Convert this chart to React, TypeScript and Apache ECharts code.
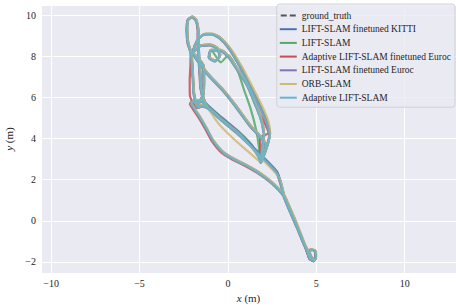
import React, { useEffect, useRef } from "react";
import * as echarts from "echarts";

// Trajectories (x, y in metres)
const groundTruth: number[][] = [
  [4.80,-1.85],[4.58,-1.61],[4.69,-1.41],[4.92,-1.46],[4.97,-1.76],[4.86,-1.95],[4.63,-1.85],[4.46,-1.46],[4.18,-0.83],[3.84,-0.10],
  [3.50,0.59],[3.16,1.22],[2.54,1.80],[1.81,2.29],[1.07,2.68],[0.28,3.02],[-0.28,3.32],[-0.85,3.90],[-1.19,4.44],[-1.58,5.02],
  [-1.92,5.46],[-2.09,5.71],[-1.81,5.85],[-1.41,5.80],[-1.30,5.66],[-1.69,5.51],[-1.92,6.10],[-1.98,6.83],[-2.03,7.56],[-2.09,8.15],
  [-2.26,8.63],[-2.32,9.27],[-2.26,9.76],[-2.03,9.90],[-1.81,9.76],[-1.69,9.27],[-1.69,8.54],[-1.64,7.80],[-1.58,7.07],[-1.53,6.44],
  [-1.30,5.71],[-0.45,5.02],[0.51,4.34],[1.30,3.66],[1.75,3.12],[1.86,2.83],[2.03,3.17],[2.26,3.76],[2.37,4.24],[2.15,4.88],
  [1.75,5.66],[1.24,6.54],[0.68,7.51],[0.06,8.39],[-0.45,8.88],[-0.90,9.07],[-1.30,9.07],[-1.64,8.88],[-1.86,8.54],[-1.98,8.20],
  [-1.58,8.49],[-1.02,8.54],[-0.62,8.39],[-0.45,8.05],[-0.73,7.76],[-1.07,7.95],[-0.96,8.29],[-0.45,8.29],[0.06,7.95],[0.56,7.32],
  [1.13,6.54],[1.58,5.61],[1.92,4.78],[2.03,4.15],[1.92,3.41],[1.86,2.83],[2.15,3.66],[1.24,4.63],[0.40,5.61],[-0.28,6.34],
  [-1.19,7.17],[-1.81,7.90],[-1.98,8.15],[-1.41,7.56],[-1.36,6.83],[-1.41,6.10],[-1.69,5.66],[-1.19,5.51],[-0.34,4.88],[0.68,4.15],
  [1.58,3.41],[2.26,2.83],[2.77,2.34],[2.99,1.80],[3.16,1.22],[3.50,0.49],[3.95,-0.39],[4.35,-1.22],[4.69,-1.71]
];

const liftKitti: number[][] = [
  [4.78,-1.83],[4.56,-1.58],[4.70,-1.38],[4.94,-1.48],[4.98,-1.78],[4.84,-1.97],[4.60,-1.82],[4.44,-1.42],[4.16,-0.80],[3.86,-0.08],
  [3.52,0.60],[3.18,1.25],[2.56,1.82],[1.83,2.32],[1.05,2.70],[0.26,3.05],[-0.30,3.36],[-0.88,3.93],[-1.22,4.48],[-1.60,5.05],
  [-1.95,5.48],[-2.10,5.75],[-1.80,5.88],[-1.40,5.84],[-1.28,5.68],[-1.66,5.54],[-1.90,6.14],[-1.96,6.86],[-2.00,7.60],[-2.07,8.18],
  [-2.24,8.66],[-2.30,9.30],[-2.24,9.78],[-2.01,9.92],[-1.79,9.78],[-1.67,9.30],[-1.66,8.58],[-1.60,7.84],[-1.55,7.10],[-1.50,6.48],
  [-1.26,5.74],[-0.40,5.06],[0.55,4.38],[1.34,3.70],[1.78,3.16],[1.88,2.86],[2.05,3.20],[2.28,3.80],[2.38,4.28],[2.17,4.92],
  [1.77,5.70],[1.26,6.58],[0.70,7.55],[0.08,8.42],[-0.43,8.90],[-0.88,9.09],[-1.28,9.09],[-1.62,8.90],[-1.84,8.56],[-1.96,8.22],
  [-1.56,8.51],[-1.00,8.56],[-0.60,8.41],[-0.43,8.07],[-0.71,7.78],[-1.05,7.97],[-0.94,8.31],[-0.43,8.31],[0.08,7.97],[0.58,7.34],
  [1.15,6.56],[1.60,5.63],[1.94,4.80],[2.05,4.17],[1.94,3.43],[1.88,2.86],[2.17,3.68],[1.26,4.66],[0.42,5.64],[-0.26,6.37],
  [-1.17,7.20],[-1.79,7.93],[-1.96,8.17],[-1.39,7.58],[-1.34,6.86],[-1.39,6.13],[-1.67,5.69],[-1.17,5.54],[-0.32,4.91],[0.70,4.18],
  [1.60,3.44],[2.28,2.86],[2.79,2.37],[3.01,1.83],[3.18,1.25],[3.52,0.52],[3.97,-0.36],[4.37,-1.19],[4.71,-1.68]
];

const liftSlam: number[][] = [
  [4.82,-1.84],[4.60,-1.60],[4.71,-1.40],[4.93,-1.47],[4.96,-1.77],[4.85,-1.96],[4.62,-1.84],[4.45,-1.45],[4.17,-0.82],[3.85,-0.09],
  [3.51,0.60],[3.17,1.23],[2.55,1.81],[1.82,2.30],[1.06,2.69],[0.27,3.03],[-0.29,3.34],[-0.86,3.92],[-1.20,4.46],[-1.59,5.04],
  [-1.93,5.47],[-2.10,5.73],[-1.80,5.87],[-1.40,5.82],[-1.29,5.67],[-1.68,5.53],[-1.91,6.12],[-1.97,6.85],[-2.02,7.58],[-2.08,8.17],
  [-2.25,8.65],[-2.31,9.28],[-2.25,9.77],[-2.02,9.91],[-1.80,9.77],[-1.68,9.28],[-1.68,8.56],[-1.62,7.82],[-1.56,7.09],[-1.51,6.46],
  [-1.28,5.73],[-0.43,5.04],[0.53,4.36],[1.32,3.68],[1.76,3.14],[1.87,2.85],[2.04,3.19],[2.27,3.78],[2.38,4.26],[2.16,4.90],
  [1.76,5.68],[1.25,6.56],[0.69,7.53],[0.07,8.41],[-0.44,8.89],[-0.89,9.08],[-1.29,9.08],[-1.63,8.89],[-1.85,8.55],[-1.97,8.21],
  [-1.57,8.50],[-1.01,8.55],[-0.61,8.40],[-0.44,8.06],[-0.72,7.77],[-1.06,7.96],[-0.95,8.30],[-0.40,7.70],[0.02,8.05],[0.55,7.30],
  [0.90,6.40],[1.30,5.40],[1.60,4.40],[1.75,3.60],[1.80,2.95],[1.87,2.85],[2.16,3.67],[1.25,4.64],[0.41,5.62],[-0.27,6.35],
  [-1.18,7.18],[-1.80,7.91],[-1.97,8.16],[-1.40,7.57],[-1.35,6.84],[-1.40,6.11],[-1.68,5.67],[-1.18,5.52],[-0.33,4.89],[0.69,4.16],
  [1.59,3.42],[2.27,2.84],[2.78,2.35],[3.00,1.81],[3.17,1.23],[3.51,0.50],[3.96,-0.38],[4.36,-1.21],[4.70,-1.70]
];

const adaptiveEuroc: number[][] = [
  [4.79,-1.86],[4.57,-1.62],[4.68,-1.42],[4.91,-1.47],[4.96,-1.77],[4.85,-1.96],[4.62,-1.86],[4.45,-1.47],[4.17,-0.84],[3.83,-0.11],
  [3.49,0.58],[3.14,1.21],[2.52,1.78],[1.78,2.26],[1.03,2.64],[0.24,2.98],[-0.33,3.28],[-0.90,3.86],[-1.25,4.41],[-1.64,4.99],
  [-1.98,5.43],[-2.15,5.68],[-1.84,5.83],[-1.44,5.78],[-1.33,5.63],[-1.74,5.48],[-2.15,6.10],[-2.16,6.83],[-2.12,7.56],[-2.11,8.14],
  [-2.28,8.62],[-2.34,9.26],[-2.28,9.75],[-2.05,9.89],[-1.83,9.75],[-1.71,9.26],[-1.71,8.53],[-1.66,7.79],[-1.60,7.06],[-1.55,6.43],
  [-1.32,5.70],[-0.47,5.01],[0.49,4.33],[1.28,3.65],[1.73,3.11],[1.84,2.82],[2.01,3.16],[2.24,3.75],[2.35,4.23],[2.13,4.87],
  [1.73,5.65],[1.22,6.53],[0.66,7.50],[0.04,8.38],[-0.47,8.87],[-0.92,9.06],[-1.32,9.06],[-1.66,8.87],[-1.88,8.53],[-2.00,8.19],
  [-1.60,8.48],[-1.04,8.53],[-0.64,8.38],[-0.47,8.04],[-0.75,7.75],[-1.09,7.94],[-0.98,8.28],[-0.47,8.28],[0.04,7.94],[0.54,7.31],
  [1.11,6.53],[1.56,5.60],[2.10,4.70],[2.30,4.28],[1.82,4.02],[1.88,2.90],[2.13,3.65],[1.22,4.62],[0.38,5.60],[-0.30,6.33],
  [-1.21,7.16],[-1.83,7.89],[-2.00,8.14],[-1.43,7.55],[-1.38,6.82],[-1.43,6.09],[-1.71,5.65],[-1.21,5.50],[-0.36,4.87],[0.66,4.14],
  [1.56,3.40],[2.24,2.82],[2.75,2.33],[2.97,1.79],[3.14,1.21],[3.48,0.48],[3.93,-0.40],[4.33,-1.23],[4.67,-1.72]
];

const liftEuroc: number[][] = [
  [4.81,-1.84],[4.59,-1.60],[4.70,-1.40],[4.93,-1.45],[4.98,-1.75],[4.87,-1.94],[4.64,-1.84],[4.47,-1.45],[4.19,-0.82],[3.85,-0.09],
  [3.51,0.60],[3.17,1.23],[2.55,1.81],[1.82,2.30],[1.08,2.69],[0.29,3.03],[-0.27,3.33],[-0.84,3.91],[-1.18,4.45],[-1.57,5.03],
  [-1.91,5.47],[-2.08,5.72],[-1.80,5.86],[-1.40,5.81],[-1.29,5.67],[-1.68,5.52],[-1.91,6.11],[-1.97,6.84],[-2.02,7.57],[-2.08,8.16],
  [-2.25,8.64],[-2.31,9.28],[-2.25,9.77],[-2.02,9.91],[-1.80,9.77],[-1.68,9.28],[-1.68,8.55],[-1.63,7.81],[-1.57,7.08],[-1.52,6.45],
  [-1.29,5.72],[-0.44,5.03],[0.52,4.35],[1.31,3.67],[1.76,3.13],[1.87,2.84],[2.04,3.18],[2.27,3.77],[2.38,4.25],[2.16,4.89],
  [1.76,5.67],[1.25,6.55],[0.69,7.52],[0.07,8.40],[-0.44,8.89],[-0.89,9.08],[-1.29,9.08],[-1.63,8.89],[-1.85,8.55],[-1.97,8.21],
  [-1.57,8.50],[-1.01,8.55],[-0.61,8.40],[-0.44,8.06],[-0.72,7.77],[-1.06,7.96],[-0.95,8.30],[-0.44,8.30],[0.07,7.96],[0.57,7.33],
  [1.14,6.55],[1.59,5.62],[1.93,4.79],[2.04,4.16],[1.95,3.70],[1.87,2.84],[2.16,3.67],[1.25,4.64],[0.41,5.62],[-0.27,6.35],
  [-1.18,7.18],[-1.80,7.91],[-1.97,8.16],[-1.40,7.57],[-1.35,6.84],[-1.40,6.11],[-1.68,5.67],[-1.18,5.52],[-0.33,4.89],[0.69,4.16],
  [1.59,3.42],[2.27,2.84],[2.78,2.35],[3.00,1.81],[3.17,1.23],[3.51,0.50],[3.96,-0.38],[4.36,-1.21],[4.70,-1.70]
];

const orbSlam: number[][] = [
  [4.83,-1.82],[4.61,-1.58],[4.72,-1.38],[4.95,-1.44],[5.00,-1.74],[4.88,-1.93],[4.65,-1.83],[4.48,-1.43],[4.21,-0.79],[3.87,-0.06],
  [3.53,0.62],[3.19,1.25],[2.57,1.83],[1.84,2.31],[1.09,2.70],[0.30,3.04],[-0.26,3.35],[-0.83,3.93],[-1.17,4.47],[-1.56,5.05],
  [-1.90,5.49],[-2.07,5.74],[-1.79,5.88],[-1.39,5.83],[-1.28,5.69],[-1.67,5.54],[-1.90,6.13],[-1.96,6.86],[-2.01,7.59],[-2.07,8.18],
  [-2.24,8.66],[-2.30,9.30],[-2.24,9.79],[-2.01,9.93],[-1.79,9.79],[-1.67,9.30],[-1.67,8.57],[-1.62,7.83],[-1.56,7.10],[-1.51,6.47],
  [-1.28,5.74],[-0.55,4.75],[0.30,4.00],[1.10,3.40],[1.70,2.95],[1.88,2.86],[2.05,3.20],[2.28,3.79],[2.39,4.27],[2.30,4.80],
  [1.92,5.60],[1.40,6.50],[0.82,7.45],[0.15,8.38],[-0.43,8.91],[-0.88,9.10],[-1.28,9.10],[-1.62,8.91],[-1.84,8.57],[-1.96,8.23],
  [-1.56,8.52],[-1.00,8.57],[-0.60,8.42],[-0.43,8.08],[-0.71,7.79],[-1.05,7.98],[-0.94,8.32],[-0.43,8.32],[0.08,7.98],[0.58,7.35],
  [1.15,6.57],[1.60,5.64],[1.94,4.81],[2.05,4.18],[1.94,3.44],[1.88,2.86],[2.17,3.69],[1.26,4.66],[0.42,5.64],[-0.26,6.37],
  [-1.17,7.20],[-1.79,7.93],[-1.96,8.18],[-1.39,7.59],[-1.34,6.86],[-1.39,6.13],[-1.67,5.69],[-1.17,5.54],[-0.32,4.91],[0.70,4.18],
  [1.80,3.10],[2.50,2.50],[2.90,2.10],[3.03,1.80],[3.19,1.25],[3.53,0.52],[3.98,-0.36],[4.38,-1.19],[4.72,-1.68]
];

const adaptiveLift: number[][] = [
  [4.81,-1.87],[4.59,-1.63],[4.68,-1.43],[4.91,-1.44],[4.98,-1.74],[4.88,-1.94],[4.65,-1.87],[4.47,-1.48],[4.19,-0.85],[3.83,-0.12],
  [3.49,0.57],[3.15,1.20],[2.53,1.78],[1.80,2.27],[1.08,2.66],[0.29,3.00],[-0.27,3.30],[-0.84,3.88],[-1.18,4.42],[-1.57,5.00],
  [-1.91,5.44],[-2.08,5.69],[-1.82,5.83],[-1.42,5.78],[-1.31,5.64],[-1.70,5.50],[-1.93,6.08],[-1.99,6.81],[-2.04,7.54],[-2.10,8.13],
  [-2.27,8.61],[-2.33,9.25],[-2.27,9.74],[-2.04,9.88],[-1.82,9.74],[-1.70,9.25],[-1.70,8.52],[-1.65,7.78],[-1.59,7.05],[-1.54,6.42],
  [-1.31,5.69],[-0.46,5.00],[0.50,4.32],[1.29,3.64],[1.74,3.10],[1.85,2.81],[2.02,3.15],[2.25,3.74],[2.36,4.22],[2.14,4.86],
  [1.74,5.64],[1.23,6.52],[0.67,7.49],[0.05,8.37],[-0.46,8.86],[-0.91,9.05],[-1.31,9.05],[-1.65,8.86],[-1.87,8.52],[-1.99,8.18],
  [-1.59,8.47],[-1.03,8.52],[-0.63,8.37],[-0.46,8.03],[-0.74,7.74],[-1.08,7.93],[-0.97,8.27],[-0.46,8.27],[0.05,7.93],[0.55,7.30],
  [1.12,6.52],[1.57,5.59],[1.91,4.76],[2.02,4.13],[1.91,3.39],[1.85,2.81],[2.14,3.64],[1.23,4.61],[0.39,5.59],[-0.29,6.32],
  [-1.20,7.15],[-1.82,7.88],[-1.99,8.13],[-1.42,7.54],[-1.37,6.81],[-1.42,6.08],[-1.70,5.64],[-1.20,5.49],[-0.35,4.86],[0.67,4.13],
  [1.57,3.39],[2.25,2.81],[2.76,2.32],[2.98,1.78],[3.15,1.20],[3.49,0.47],[3.94,-0.41],[4.34,-1.24],[4.68,-1.73]
];

const seriesNames = [
  "ground_truth",
  "LIFT-SLAM finetuned KITTI",
  "LIFT-SLAM",
  "Adaptive LIFT-SLAM finetuned Euroc",
  "LIFT-SLAM finetuned Euroc",
  "ORB-SLAM",
  "Adaptive LIFT-SLAM",
];
const seriesData = [groundTruth, liftKitti, liftSlam, adaptiveEuroc, liftEuroc, orbSlam, adaptiveLift];
const seriesColors = ["#555555", "#4C72B0", "#55A868", "#C44E52", "#8172B2", "#CCB974", "#64B5CD"];

const xRange = [-10.57, 12.9];
const yRange = [-2.54, 10.49];
const xStep = 5;
const yStep = 2;

const FONT = '"Liberation Serif", "DejaVu Serif", serif';
const TEXT = "#262626";

const fmt = (step: number) => (v: number) => {
  const r = v / step;
  if (Math.abs(r - Math.round(r)) > 1e-6) return "";
  const n = Math.round(v);
  return n < 0 ? "\u2212" + Math.abs(n) : String(n);
};

export default function App() {
  const ref = useRef<HTMLDivElement>(null);
  useEffect(() => {
    if (!ref.current) return;
    const chart = echarts.init(ref.current, undefined, { renderer: "svg" });
    const axisCommon = {
      type: "value" as const,
      axisLine: { show: false },
      axisTick: { show: false },
      splitLine: { show: true, lineStyle: { color: "#ffffff", width: 1 } },
      nameLocation: "middle" as const,
    };
    const nameStyle = {
      color: TEXT,
      fontFamily: FONT,
      fontSize: 11,
      rich: { i: { fontStyle: "italic", fontFamily: FONT, fontSize: 11, color: TEXT } },
    };
    chart.setOption({
      animation: false,
      backgroundColor: "#ffffff",
      grid: {
        left: 41, right: 0, top: 5, bottom: 35,
        containLabel: false, outerBoundsMode: "none",
        show: true, backgroundColor: "#EAEAF2", borderWidth: 0,
      },
      xAxis: {
        ...axisCommon,
        min: xRange[0],
        max: xRange[1],
        minInterval: xStep,
        maxInterval: xStep,
        axisLabel: { formatter: fmt(xStep), color: TEXT, fontFamily: FONT, fontSize: 10, margin: 5 },
        name: "{i|x} (m)",
        nameGap: 10,
        nameTextStyle: nameStyle,
      },
      yAxis: {
        ...axisCommon,
        min: yRange[0],
        max: yRange[1],
        minInterval: yStep,
        maxInterval: yStep,
        axisLabel: { formatter: fmt(yStep), color: TEXT, fontFamily: FONT, fontSize: 10, margin: 5 },
        name: "{i|y} (m)",
        nameGap: 13,
        nameTextStyle: nameStyle,
      },
      legend: {
        orient: "vertical",
        right: 1,
        top: 4,
        padding: [6, 4, 4, 3],
        itemWidth: 17,
        itemHeight: 2,
        itemGap: 2.7,
        backgroundColor: "rgba(234,234,242,0.8)",
        borderColor: "rgba(204,204,204,0.8)",
        borderWidth: 1,
        borderRadius: 3,
        textStyle: { fontFamily: FONT, fontSize: 9.5, color: TEXT, lineHeight: 11 },
        data: seriesNames.map((n, i) => ({
          name: n,
          icon: i === 0 ? "path://M0,0h6v2h-6z M9,0h6v2h-6z" : "rect",
          itemStyle: { color: seriesColors[i] },
        })),
      },
      series: seriesData.map((d, i) => ({
        type: "line",
        name: seriesNames[i],
        data: d,
        symbol: "none",
        showSymbol: false,
        smooth: 0.2,
        z: 2 + i,
        lineStyle: { color: seriesColors[i], width: 2.2, type: i === 0 ? [6, 3] : "solid", opacity: i === 0 ? 0.9 : 0.85 },
        itemStyle: { color: seriesColors[i] },
        emphasis: { disabled: true },
      })),
    });
    return () => chart.dispose();
  }, []);
  return <div ref={ref} style={{ position: "fixed", left: 0, top: 0, width: 456, height: 308 }} />;
}
